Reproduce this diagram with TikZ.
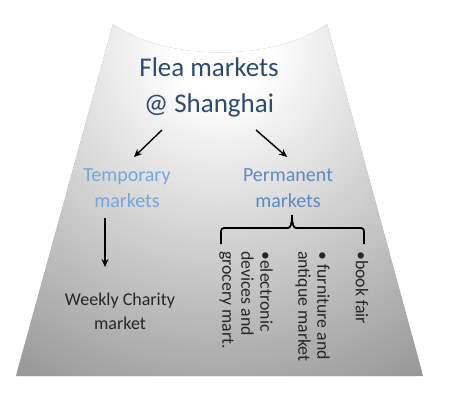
\documentclass[tikz,border=0pt]{standalone}
\usepackage{fontspec}
\setmainfont{Carlito}
\usetikzlibrary{arrows.meta}
\definecolor{titleblue}{HTML}{2D4A6F}
\definecolor{tempblue}{HTML}{74A6DE}
\definecolor{permblue}{HTML}{5D8AC0}
\definecolor{txtgray}{HTML}{262626}
\definecolor{shadegray}{HTML}{989898}
\pgfdeclareradialshading{trapshade}{\pgfpoint{0bp}{0bp}}{color(0bp)=(white); color(3bp)=(white); color(25bp)=(shadegray); color(50bp)=(shadegray)}
\begin{document}
\begin{tikzpicture}[x=1pt,y=-1pt,
  titletext/.style={text=titleblue, font=\fontsize{27}{36}\selectfont, align=center, inner sep=0pt},
  subtext/.style={font=\fontsize{20}{26}\selectfont, align=center, inner sep=0pt},
  leaftext/.style={text=txtgray, font=\fontsize{18}{24}\selectfont, align=center, inner sep=0pt},
  vtext/.style={text=txtgray, font=\fontsize{17.8}{19}\selectfont, align=left, inner sep=0pt, rotate=-90, anchor=west},
  arrowline/.style={draw=black, line width=1.4pt, -{Stealth[length=8pt,width=7pt]}},
  braceline/.style={draw=black, line width=1.8pt, rounded corners=3pt}
]
\useasboundingbox (0,0) rectangle (450,404);
% background trapezoid
\path[fill=shadegray] (113,24) .. controls (165,62) and (275,62) .. (327,24) -- (423,376) -- (16,376) -- cycle;
\begin{scope}
  \clip (113,24) .. controls (165,62) and (275,62) .. (327,24) -- (423,376) -- (16,376) -- cycle;
  \shade[shading=trapshade] (220,50) circle (380pt);
\end{scope}
% texts
\node[titletext] (title) at (209,87) {Flea markets\\@ Shanghai};
\node[subtext, text=tempblue] (temp) at (127,188) {Temporary\\markets};
\node[subtext, text=permblue] (perm) at (288,188) {Permanent\\markets};
\node[leaftext] (weekly) at (120,311) {Weekly Charity\\market};
\node[vtext] (elec) at (246,251) {•electronic\\devices and\\grocery mart.};
\node[vtext] (furn) at (312.5,251) {• furniture and\\antique market};
\node[vtext] (book) at (362,251) {•book fair};
% connectors
\coordinate (a1s) at (162,130); \coordinate (a1e) at (134,157);
\coordinate (a2s) at (256,130); \coordinate (a2e) at (287,157);
\coordinate (a3s) at (105,218); \coordinate (a3e) at (105,267);
\draw[arrowline] (a1s) -- (a1e);
\draw[arrowline] (a2s) -- (a2e);
\draw[arrowline] (a3s) -- (a3e);
% brace
\coordinate (bl) at (221,244); \coordinate (br) at (364,244); \coordinate (btip) at (292,213);
\draw[braceline] (bl) -- (221,228) -- (285,228) .. controls (290,228) and (292,225) .. (btip)
  .. controls (292,225) and (294,228) .. (299,228) -- (364,228) -- (br);
\end{tikzpicture}
\end{document}
